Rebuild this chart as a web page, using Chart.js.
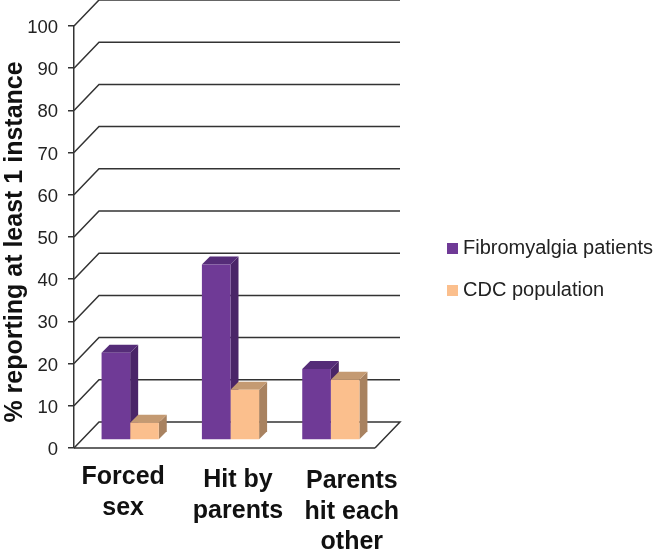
<!DOCTYPE html>
<html><head><meta charset="utf-8">
<style>html,body{margin:0;padding:0;background:#fff}#w{width:653px;height:549px}</style>
<script src="https://cdn.jsdelivr.net/npm/chart.js@4"></script></head>
<body><div id="w"><canvas id="c"></canvas></div>
<script>
const categories = [["Forced","sex"],["Hit by","parents"],["Parents","hit each","other"]];
const fibromyalgia = [20.7, 41.6, 16.8];
const cdc = [4.1, 11.9, 14.3];
const yTicks = [0,10,20,30,40,50,60,70,80,90,100];

const DEPTH_X = 25, DEPTH_Y = 26, BAR_DX = 6, BAR_DY = 8, BAR_SX = 8, BAR_SY = 8;
const LABEL_SHIFT_X = [-1, 13.5, 27], LABEL_SHIFT_Y = [-3, 0, 1];
const shades = [{side:'#4a2568',top:'#552c78'},{side:'#a88260',top:'#c49a72'}];

function shiftLabels(s,dx,dy){
  if(s._shifted) return;
  s._shifted=true;
  const orig=s._computeLabelItems;
  s._computeLabelItems=function(a){
    const items=orig.call(this,a);
    items.forEach((it,i)=>{it.options.translation[0]+=dx(i);it.options.translation[1]+=dy(i);});
    return items;
  };
}

const walls = {
  id:'walls',
  beforeDatasetsDraw(chart){
    const {ctx,scales:{y},chartArea:a} = chart;
    ctx.save();
    ctx.strokeStyle='#333'; ctx.lineWidth=1.5;
    yTicks.forEach(t=>{
      const p=y.getPixelForValue(t);
      ctx.beginPath();
      ctx.moveTo(a.left,p);
      ctx.lineTo(a.left+DEPTH_X,p-DEPTH_Y);
      ctx.lineTo(a.right+DEPTH_X,p-DEPTH_Y);
      if(t===0) ctx.lineTo(a.right,p);
      ctx.stroke();
    });
    const p0=y.getPixelForValue(0);
    ctx.beginPath();ctx.moveTo(a.left,p0);ctx.lineTo(a.right,p0);ctx.stroke();
    ctx.restore();
    // side and top faces go behind every front face
    ctx.save();
    ctx.translate(BAR_DX,-BAR_DY);
    [0,1].forEach(i=>{
      const s=shades[i];
      chart.getDatasetMeta(i).data.forEach(b=>{
        const l=b.x-b.width/2, r=b.x+b.width/2, t=b.y, bo=b.base;
        ctx.fillStyle=s.side;
        ctx.beginPath();ctx.moveTo(r,t);ctx.lineTo(r+BAR_SX,t-BAR_SY);ctx.lineTo(r+BAR_SX,bo-BAR_SY);ctx.lineTo(r,bo);ctx.closePath();ctx.fill();
        ctx.fillStyle=s.top;
        ctx.beginPath();ctx.moveTo(l,t);ctx.lineTo(l+BAR_SX,t-BAR_SY);ctx.lineTo(r+BAR_SX,t-BAR_SY);ctx.lineTo(r,t);ctx.closePath();ctx.fill();
      });
    });
    ctx.restore();
  },
  beforeDatasetDraw(chart){
    chart.ctx.save();
    chart.ctx.translate(BAR_DX,-BAR_DY);
  },
  afterDatasetDraw(chart){
    chart.ctx.restore();
  },
  afterLayout(chart){
    const L=chart.legend;
    L.left=430; L.right=653;
    L.top-=18; L.bottom-=18;
  }
};

new Chart(document.getElementById('c'),{
  type:'bar',
  data:{labels:categories,datasets:[
    {label:'Fibromyalgia patients',data:fibromyalgia,backgroundColor:'#6f3a96',clip:false},
    {label:'CDC population',data:cdc,backgroundColor:'#fbbf8d',clip:false}
  ]},
  options:{
    responsive:true,maintainAspectRatio:false,animation:false,
    layout:{padding:{top:26,left:0,right:153,bottom:0}},
    datasets:{bar:{barPercentage:1,categoryPercentage:0.57}},
    plugins:{
      tooltip:{enabled:false},
      legend:{position:'right',align:'center',
        labels:{usePointStyle:true,pointStyle:'rect',boxWidth:1,boxHeight:11,padding:22,color:'#222',font:{family:'"Liberation Sans"',size:20}}}
    },
    scales:{
      x:{grid:{display:false},border:{display:false},
        ticks:{maxRotation:0,minRotation:0,autoSkip:false,color:'#111',padding:9,font:{family:'"Liberation Sans"',size:25,weight:'bold',lineHeight:1.22}},
        afterFit(s){
          s.height=101;
          shiftLabels(s,i=>LABEL_SHIFT_X[i],i=>LABEL_SHIFT_Y[i]);
        }},
      y:{min:0,max:100,
        afterBuildTicks(s){s.ticks=yTicks.map(v=>({value:v}));},
        afterFit(s){
          s.width=74;
          shiftLabels(s,()=>0,()=>2);
          if(!s._titled){
            s._titled=true;
            const d=s.drawTitle;
            s.drawTitle=function(){this.ctx.save();this.ctx.translate(0,5);d.call(this);this.ctx.restore();};
          }
        },
        border:{display:true,color:'#333',width:1.5},
        grid:{drawOnChartArea:false,drawTicks:true,tickLength:6,color:'#333',lineWidth:1.5},
        ticks:{color:'#222',padding:10,font:{family:'"Liberation Sans"',size:18.5}},
        title:{display:true,text:'% reporting at least 1 instance',color:'#111',padding:{top:0,bottom:0},font:{family:'"Liberation Sans"',size:25,weight:'bold'}}
      }
    }
  },
  plugins:[walls]
});
</script></body></html>
